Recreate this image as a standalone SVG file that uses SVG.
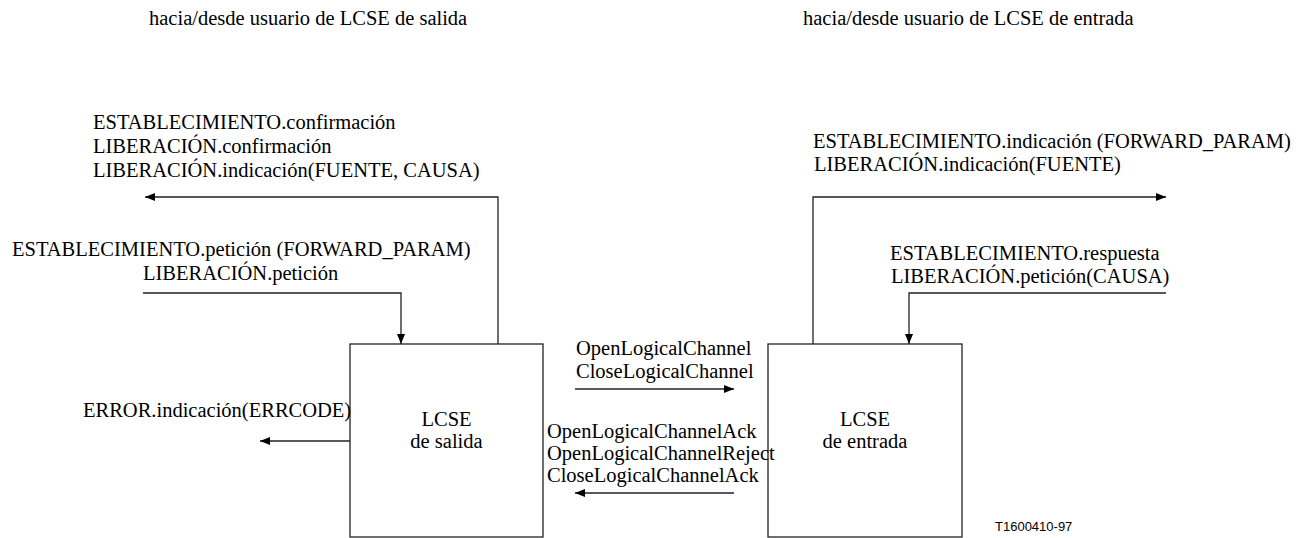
<svg xmlns="http://www.w3.org/2000/svg" width="1308" height="538" viewBox="0 0 1308 538">
<style>
text{font-family:"Liberation Serif","Times New Roman",serif;font-size:20.5px;fill:#000}
.c{text-anchor:middle}
.box{fill:#fff;stroke:#222;stroke-width:1.3}
.ln{fill:none;stroke:#222;stroke-width:1.3;marker-end:url(#ah)}
.ref{font-family:"Liberation Sans",Arial,sans-serif;font-size:13px}
</style>
<defs>
<marker id="ah" markerUnits="userSpaceOnUse" markerWidth="10" markerHeight="8" refX="10" refY="4" orient="auto">
<path d="M0,0 L10,4 L0,8 z" fill="#000"/>
</marker>
</defs>
<g id="titles">
<text x="149" y="25">hacia/desde usuario de LCSE de salida</text>
<text x="803" y="25">hacia/desde usuario de LCSE de entrada</text>
</g>
<g id="lcse-salida">
<rect class="box" x="350" y="344" width="193" height="193"/>
<text class="c" x="446.5" y="426">LCSE</text>
<text class="c" x="446.5" y="448">de salida</text>
</g>
<g id="lcse-entrada">
<rect class="box" x="768" y="344" width="194" height="193"/>
<text class="c" x="865" y="426">LCSE</text>
<text class="c" x="865" y="448">de entrada</text>
</g>
<g id="connectors">
<path class="ln" d="M498,344 V197 H145"/>
<path class="ln" d="M143,293 H401 V344"/>
<path class="ln" d="M350,441 H260"/>
<path class="ln" d="M575,389 H734"/>
<path class="ln" d="M734,493 H575"/>
<path class="ln" d="M813,344 V197 H1166"/>
<path class="ln" d="M1166,293 H909 V344"/>
</g>
<g id="labels">
<text x="93" y="129">ESTABLECIMIENTO.confirmación</text>
<text x="93" y="153">LIBERACIÓN.confirmación</text>
<text x="93" y="177">LIBERACIÓN.indicación(FUENTE, CAUSA)</text>
<text x="12" y="256">ESTABLECIMIENTO.petición (FORWARD_PARAM)</text>
<text x="143" y="280">LIBERACIÓN.petición</text>
<text x="83" y="417">ERROR.indicación(ERRCODE)</text>
<text x="576" y="355">OpenLogicalChannel</text>
<text x="576" y="378">CloseLogicalChannel</text>
<text x="547" y="438">OpenLogicalChannelAck</text>
<text x="547" y="460">OpenLogicalChannelReject</text>
<text x="547" y="482">CloseLogicalChannelAck</text>
<text x="813" y="148">ESTABLECIMIENTO.indicación (FORWARD_PARAM)</text>
<text x="814" y="171">LIBERACIÓN.indicación(FUENTE)</text>
<text x="890" y="260">ESTABLECIMIENTO.respuesta</text>
<text x="891" y="283">LIBERACIÓN.petición(CAUSA)</text>
<text class="ref" x="995" y="531">T1600410-97</text>
</g>
</svg>
